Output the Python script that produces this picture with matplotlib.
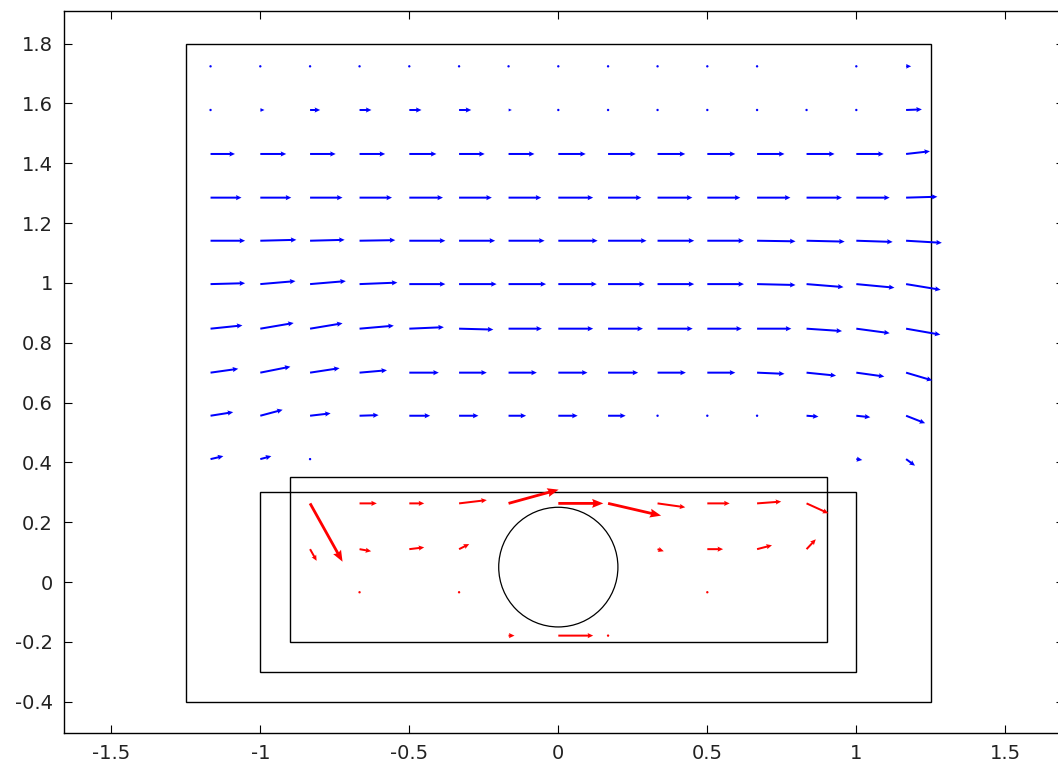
import numpy as np
import matplotlib
matplotlib.use("Agg")
import matplotlib.pyplot as plt
from matplotlib.patches import Rectangle, Circle

nan = np.nan

# --- grid of the vector field ---
xs = [-1.167, -1.0, -0.833, -0.667, -0.5, -0.333, -0.167, 0.0,
      0.167, 0.333, 0.5, 0.667, 0.833, 1.0, 1.167]

# blue field (outer region), one row per y
blue_rows = [1.724, 1.578, 1.431, 1.285, 1.141, 0.996, 0.847, 0.700, 0.556, 0.411]
blue_u = [
    [0.002, 0.002, 0.002, 0.002, 0.002, 0.002, 0.002, 0.002, 0.002, 0.002, 0.002, 0.002, nan, 0.002, 0.017],
    [0.002, 0.014, 0.034, 0.040, 0.041, 0.041, 0.011, 0.002, 0.002, 0.002, 0.002, 0.002, 0.002, 0.002, 0.053],
    [0.082, 0.087, 0.086, 0.086, 0.091, 0.086, 0.087, 0.092, 0.093, 0.093, 0.094, 0.092, 0.094, 0.092, 0.080],
    [0.104, 0.104, 0.109, 0.109, 0.113, 0.110, 0.110, 0.117, 0.112, 0.117, 0.111, 0.112, 0.119, 0.112, 0.105],
    [0.116, 0.121, 0.116, 0.120, 0.121, 0.121, 0.121, 0.132, 0.129, 0.123, 0.123, 0.129, 0.128, 0.122, 0.120],
    [0.116, 0.118, 0.120, 0.127, 0.121, 0.126, 0.126, 0.129, 0.123, 0.123, 0.123, 0.129, 0.124, 0.128, 0.116],
    [0.107, 0.112, 0.109, 0.115, 0.116, 0.115, 0.112, 0.117, 0.117, 0.118, 0.116, 0.115, 0.119, 0.112, 0.115],
    [0.093, 0.101, 0.099, 0.092, 0.099, 0.093, 0.095, 0.098, 0.101, 0.095, 0.094, 0.092, 0.099, 0.094, 0.088],
    [0.076, 0.075, 0.069, 0.064, 0.070, 0.065, 0.059, 0.065, 0.059, 0.002, 0.002, 0.002, 0.040, 0.047, 0.064],
    [0.043, 0.037, 0.002, nan, nan, nan, nan, nan, nan, nan, nan, nan, nan, 0.020, 0.030],
]
blue_v = [
    [0, 0, 0, 0, 0, 0, 0, 0, 0, 0, 0, 0, nan, 0, 0],
    [0, 0, 0, 0, 0, 0, 0, 0, 0, 0, 0, 0, 0, 0, 0.002],
    [0, 0, 0, 0, 0, 0, 0, 0, 0, 0, 0, 0, 0, 0, 0.009],
    [0, 0, 0, 0, 0, 0, 0, 0, 0, 0, 0, 0, 0, 0, 0.003],
    [0, 0.003, 0.003, 0.002, 0, 0, 0, 0, 0, 0, 0, -0.002, -0.003, -0.004, -0.007],
    [0.003, 0.010, 0.010, 0.005, 0, 0, 0, 0, 0, 0, 0, -0.003, -0.010, -0.012, -0.019],
    [0.011, 0.019, 0.018, 0.010, 0.005, -0.003, 0, 0, 0, 0, 0, 0, -0.008, -0.015, -0.020],
    [0.013, 0.020, 0.015, 0.008, 0, 0, 0, 0, 0, 0, 0, -0.004, -0.010, -0.013, -0.026],
    [0.012, 0.020, 0.008, 0.002, 0, 0, 0, 0, 0, 0, 0, 0, -0.003, -0.005, -0.025],
    [0.010, 0.010, 0, nan, nan, nan, nan, nan, nan, nan, nan, nan, nan, -0.003, -0.022],
]

# red field (inner channel)
red_rows = [0.263, 0.110, -0.034, -0.179]
red_u = [
    [nan, nan, 0.109, 0.058, 0.050, 0.093, 0.168, 0.151, 0.178, 0.093, 0.075, 0.081, 0.073, nan, nan],
    [nan, nan, 0.022, 0.039, 0.050, 0.034, nan, nan, nan, 0.021, 0.053, 0.050, 0.031, nan, nan],
    [nan, nan, nan, 0.002, nan, 0.002, nan, nan, nan, nan, 0.002, nan, nan, nan, nan],
    [nan, nan, nan, nan, nan, nan, 0.020, 0.117, 0.002, nan, nan, nan, nan, nan, nan],
]
red_v = [
    [nan, nan, -0.195, 0, 0, 0.011, 0.046, 0, -0.041, -0.013, 0, 0.006, -0.033, nan, nan],
    [nan, nan, -0.039, -0.007, 0.006, 0.017, nan, nan, nan, -0.007, 0, 0.013, 0.033, nan, nan],
    [nan, nan, nan, 0, nan, 0, nan, nan, nan, nan, 0, nan, nan, nan, nan],
    [nan, nan, nan, nan, nan, nan, 0, 0, 0, nan, nan, nan, nan, nan, nan],
]

# geometry outlines: (x0, y0, x1, y1)
boxes = [(-1.25, -0.4, 1.25, 1.8), (-1.0, -0.3, 1.0, 0.3), (-0.9, -0.2, 0.9, 0.35)]
cyl_center = (0.0, 0.05)
cyl_radius = 0.2

xticks = [-1.5, -1, -0.5, 0, 0.5, 1, 1.5]
xlabels = ["-1.5", "-1", "-0.5", "0", "0.5", "1", "1.5"]
yticks = [-0.4, -0.2, 0, 0.2, 0.4, 0.6, 0.8, 1, 1.2, 1.4, 1.6, 1.8]
ylabels = ["-0.4", "-0.2", "0", "0.2", "0.4", "0.6", "0.8", "1", "1.2", "1.4", "1.6", "1.8"]


def field(rows, u, v):
    X, Y = np.meshgrid(xs, rows)
    U = np.array(u, dtype=float)
    V = np.array(v, dtype=float)
    ok = ~np.isnan(U)
    return X[ok], Y[ok], U[ok], V[ok]


fig = plt.figure(figsize=(10.58, 7.67), dpi=100)
ax = fig.add_axes([0.0607, 0.0443, 0.945, 0.9414])

for x0, y0, x1, y1 in boxes:
    ax.add_patch(Rectangle((x0, y0), x1 - x0, y1 - y0, fill=False,
                           edgecolor="black", linewidth=1.0))
ax.add_patch(Circle(cyl_center, cyl_radius, fill=False, edgecolor="black", linewidth=0.9))

qkw = dict(angles="xy", scale_units="xy", scale=1)

bx, by, bu, bv = field(blue_rows, blue_u, blue_v)
ax.quiver(bx, by, bu, bv, color="#0000ff", width=0.002, headwidth=2.6,
          headlength=2.8, headaxislength=2.5, minlength=1.3, **qkw)

rx, ry, ru, rv = field(red_rows, red_u, red_v)
big = np.hypot(ru, rv) > 0.14
ax.quiver(rx[~big], ry[~big], ru[~big], rv[~big], color="#ff0000", width=0.002,
          headwidth=2.6, headlength=2.8, headaxislength=2.5, minlength=1.3, **qkw)
ax.quiver(rx[big], ry[big], ru[big], rv[big], color="#ff0000", width=0.0028,
          headwidth=3.2, headlength=4.0, headaxislength=3.6, **qkw)

ax.set_xlim(-1.658, 1.697)
ax.set_ylim(-0.5046, 1.909)
ax.set_xticks(xticks)
ax.set_xticklabels(xlabels)
ax.set_yticks(yticks)
ax.set_yticklabels(ylabels)
ax.tick_params(direction="in", length=5.8, width=0.8, top=True, right=True,
               labelsize=14, pad=8, labelcolor="#222222")
for s in ax.spines.values():
    s.set_linewidth(1.0)

fig.savefig("out.png", dpi=100)
